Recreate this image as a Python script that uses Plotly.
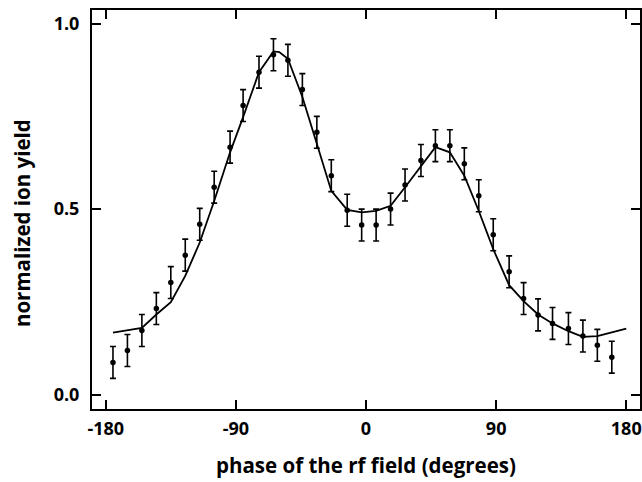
import plotly.graph_objects as go

# measured data points (phase in degrees, normalized ion yield)
phase = [-175, -165, -155, -145, -135, -125, -115, -105, -94, -85, -74, -64,
         -54, -44, -34, -24, -13, -3, 7, 17, 27, 38, 48, 58, 68, 78, 88, 99,
         109, 119, 129, 140, 150, 160, 170]
yield_meas = [0.087, 0.119, 0.173, 0.232, 0.302, 0.376, 0.459, 0.559, 0.667,
              0.779, 0.869, 0.916, 0.901, 0.822, 0.707, 0.590, 0.497, 0.457,
              0.457, 0.500, 0.565, 0.631, 0.671, 0.671, 0.622, 0.536, 0.431,
              0.331, 0.259, 0.215, 0.192, 0.178, 0.158, 0.133, 0.101]
yield_err = [0.043] * len(phase)

# calculated curve
phase_fit = [-175, -155, -145, -135, -125, -115, -105, -94, -85, -74, -64,
             -60, -54, -44, -34, -24, -13, -3, 7, 17, 27, 38, 48, 58, 68, 78,
             88, 99, 109, 119, 129, 140, 150, 160, 180]
yield_fit = [0.167, 0.180, 0.216, 0.249, 0.320, 0.410, 0.522, 0.653, 0.748,
             0.869, 0.925, 0.923, 0.905, 0.802, 0.676, 0.549, 0.498, 0.491,
             0.495, 0.509, 0.559, 0.617, 0.667, 0.653, 0.590, 0.495, 0.392,
             0.295, 0.252, 0.216, 0.192, 0.171, 0.156, 0.158, 0.178]

x_ticks = [-180, -90, 0, 90, 180]
y_ticks = [0.0, 0.5, 1.0]
y_tick_labels = ["0.0", "0.5", "1.0"]
x_title = "phase of the rf field (degrees)"
y_title = "normalized ion yield"

FONT = "Open Sans"

fig = go.Figure()
fig.add_trace(go.Scatter(
    x=phase_fit, y=yield_fit, mode="lines",
    line=dict(color="black", width=1.8), hoverinfo="skip", showlegend=False))
fig.add_trace(go.Scatter(
    x=phase, y=yield_meas, mode="markers",
    marker=dict(color="black", size=5.5),
    error_y=dict(type="data", array=yield_err, color="black",
                 thickness=1.6, width=3),
    showlegend=False))

axis_common = dict(
    showgrid=False, zeroline=False, showline=True, linecolor="black",
    linewidth=2, mirror="ticks", ticks="inside", ticklen=9, tickwidth=2,
    tickcolor="black", automargin=False,
    tickfont=dict(family=FONT, size=18, color="black", weight="bold"),
)

title_font = dict(family=FONT, size=20.5, color="black", weight="bold")

fig.update_layout(
    width=642, height=482,
    margin=dict(l=92, r=2, t=10, b=73),
    plot_bgcolor="white", paper_bgcolor="white",
    xaxis=dict(range=[-189.5, 189.5], tickvals=x_ticks,
               ticktext=[str(v) for v in x_ticks],
               ticklabelstandoff=2, **axis_common),
    yaxis=dict(range=[-0.0386, 1.0365], tickvals=y_ticks,
               ticktext=y_tick_labels,
               ticklabelstandoff=7, **axis_common),
    annotations=[
        dict(text=x_title, xref="x", x=0, yref="paper", y=0,
             yshift=-56, xanchor="center", yanchor="middle",
             showarrow=False, font=title_font),
        dict(text=y_title, xref="paper", x=0, yref="paper", y=0.466,
             xshift=-70, xanchor="center", yanchor="middle", textangle=-90,
             showarrow=False, font=title_font),
    ],
)

fig.write_html(
    "out.html",
    config={"displayModeBar": False},
    post_script="document.body.style.margin='0';"
                "document.body.style.overflow='hidden';")
